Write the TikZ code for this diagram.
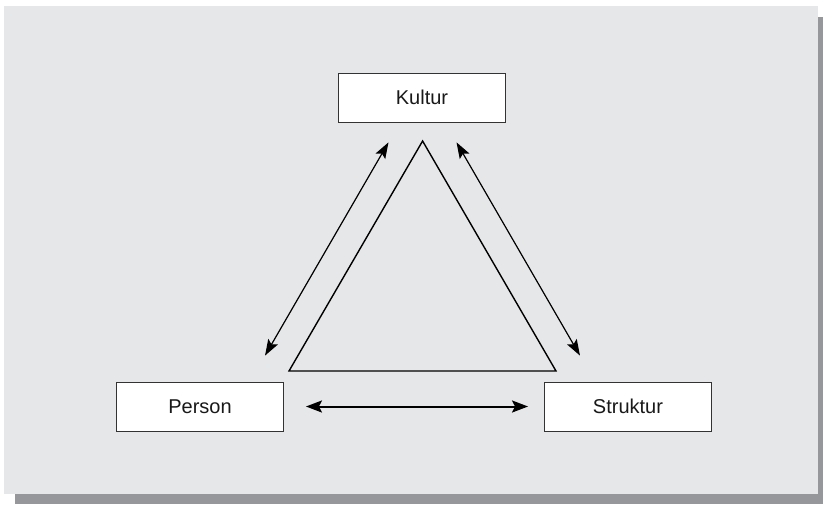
\documentclass[tikz,border=0pt]{standalone}
\usepackage{fontspec}
\setmainfont{Liberation Sans}
\usetikzlibrary{arrows.meta}

\definecolor{panelgray}{HTML}{E6E7E9}
\definecolor{shadowgray}{HTML}{96979A}

\begin{document}
\begin{tikzpicture}[x=1pt, y=-1pt,
	main/.style = {draw=black!80, fill=white, line width=0.9pt, minimum width=167pt, minimum height=49pt, inner sep=0pt, font=\fontsize{20}{24}\selectfont, text=black!90},
	link/.style = {{Stealth[length=16pt,width=11pt,inset=3pt]}-{Stealth[length=16pt,width=11pt,inset=3pt]}, line width=1.2pt}]
	%% Panel
	\useasboundingbox (0,0) rectangle (823,504);
	\fill[shadowgray] (15,17) rectangle (823,504);
	\fill[panelgray] (4,6) rectangle (818,494);

	%% Nodes
	\node[main] (1) at (422,97.5) {Kultur};
	\node[main] (2) at (200,406.5) {Person};
	\node[main] (3) at (628,406.5) {Struktur};

	%% Triangle
	\draw[line width=1.4pt, line join=miter] (422.6,141) -- (289,371) -- (556,371) -- cycle;

	%% Edges
	\draw[link, shorten <=30pt, shorten >=23pt] ([xshift=50pt]2.north) -- ([xshift=-22pt]1.south);
	\draw[link, shorten <=23pt, shorten >=30pt] ([xshift=23pt]1.south) -- ([xshift=-33pt]3.north);
	\draw[{Stealth[length=16pt,width=12pt,inset=3pt]}-{Stealth[length=16pt,width=12pt,inset=3pt]}, line width=2pt, shorten <=22pt, shorten >=16pt] (2.east) -- (3.west);
\end{tikzpicture}
\end{document}
